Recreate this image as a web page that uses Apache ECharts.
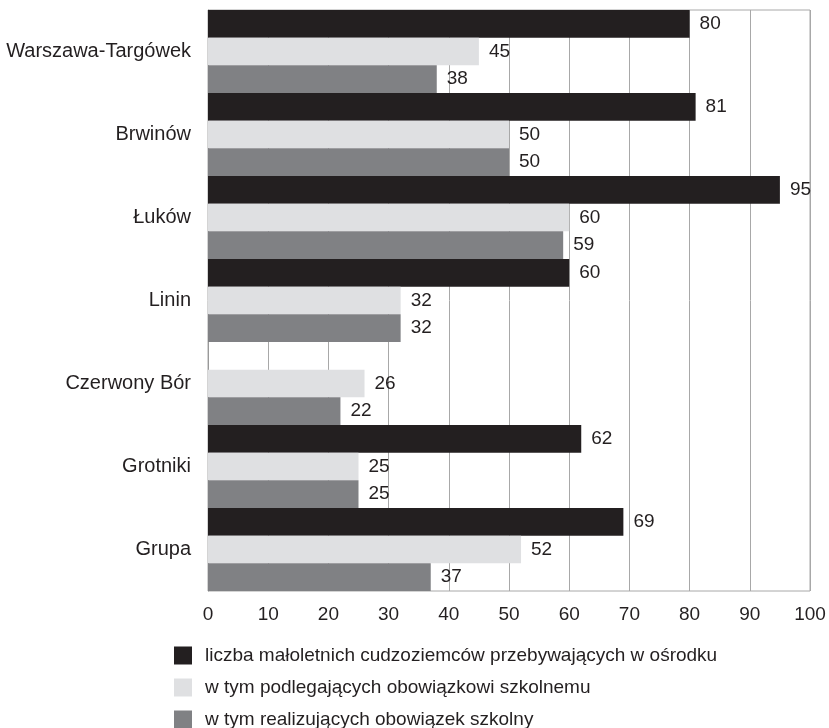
<!DOCTYPE html>
<html><head><meta charset="utf-8">
<script src="https://cdn.jsdelivr.net/npm/echarts@6/dist/echarts.min.js"></script>
<style>html,body{margin:0;padding:0;background:#fff}#c{width:829px;height:728px}</style>
</head><body><div id="c"></div>
<script>
const categories = ["Warszawa-Targówek","Brwinów","Łuków","Linin","Czerwony Bór","Grotniki","Grupa"];
const seriesNames = ["liczba małoletnich cudzoziemców przebywających w ośrodku","w tym podlegających obowiązkowi szkolnemu","w tym realizujących obowiązek szkolny"];
const totalMinors = [80,81,95,60,null,62,69];
const schoolObliged = [45,50,60,32,26,25,52];
const schoolAttending = [38,50,59,32,22,25,37];
const xTicks = [0,10,20,30,40,50,60,70,80,90,100];
const colors = ["#231f20","#dfe0e2","#808184"];
const font = "'Liberation Sans', Arial, sans-serif";
const chart = echarts.init(document.getElementById('c'), null, {renderer:'canvas'});
const values = [totalMinors, schoolObliged, schoolAttending];
const legendTops = [646, 678, 710];
chart.setOption({
  animation:false,
  textStyle:{fontFamily:font},
  grid:{left:208,right:19,top:10,bottom:137,show:true,borderColor:'#a8a8a8',borderWidth:1,
    containLabel:false,outerBoundsMode:'none'},
  legend: seriesNames.map((n,i)=>({orient:'vertical',left:174,top:legendTops[i],padding:0,itemWidth:18,itemHeight:18,
    icon:'rect',textStyle:{fontFamily:font,fontSize:19,color:'#231f20',padding:[0,0,0,8]},
    data:[n]})),
  xAxis:{type:'value',min:xTicks[0],max:xTicks[xTicks.length-1],interval:10,
    axisLine:{show:false},axisTick:{show:false},
    splitLine:{show:true,lineStyle:{color:'#a8a8a8',width:1}},
    axisLabel:{fontSize:19,color:'#231f20',margin:14,fontFamily:font}},
  yAxis:{type:'category',inverse:true,data:categories,
    axisLine:{show:true,lineStyle:{color:'#999',width:1}},axisTick:{show:false},
    axisLabel:{fontSize:20,color:'#231f20',margin:17,fontFamily:font,padding:[4,0,0,0]}},
  series: seriesNames.map((n,i)=>({
    name:n,type:'bar',data:values[i],barGap:'0%',barCategoryGap:'0%',
    itemStyle:{color:colors[i]},
    label:{show:true,position:'right',distance:10,fontSize:19,color:'#231f20',fontFamily:font}
  }))
});
</script></body></html>
